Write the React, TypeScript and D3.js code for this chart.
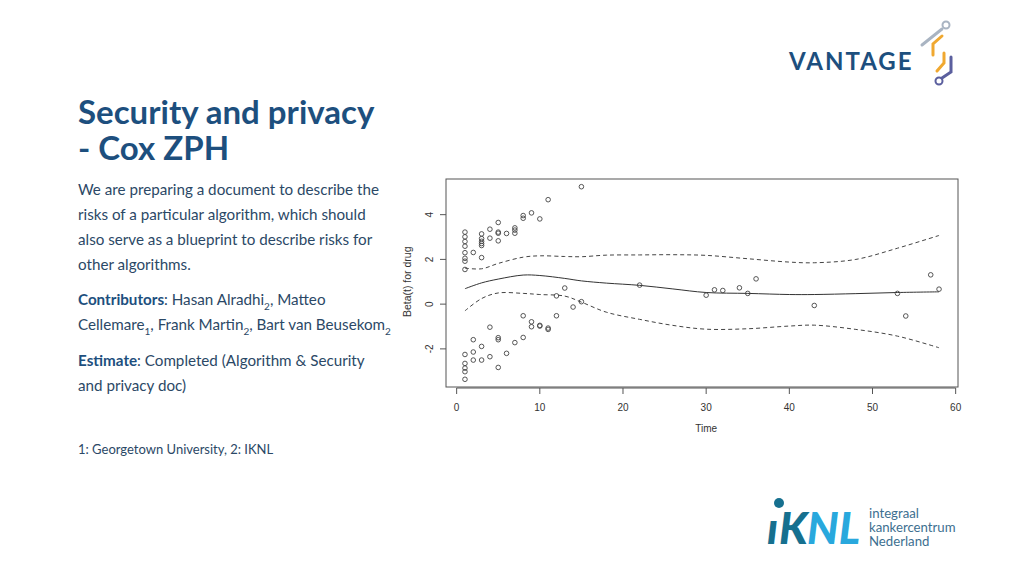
import React, { useEffect, useRef } from "react";
import * as d3 from "d3";

// Schoenfeld residual points (time, beta)
const pointTimes = [
  1, 1, 1, 1, 1, 1, 1, 1, 1, 1, 1, 1, 1,
  2, 2, 2, 2,
  3, 3, 3, 3, 3, 3, 3, 3,
  4, 4, 4, 4,
  5, 5, 5, 5, 5, 5, 5,
  6, 6,
  7, 7, 7, 7,
  8, 8, 8, 8,
  9, 9, 9,
  10, 10, 10,
  11, 11, 11,
  12, 12, 13, 14, 15, 15,
  22, 30, 31, 32, 34, 35, 36, 43, 53, 54, 57, 58,
];
const pointBetas = [
  3.22, 3.01, 2.8, 2.59, 2.3, 2.05, 1.92, 1.55, -2.25, -2.65, -2.86, -3.02, -3.36,
  2.31, -1.59, -2.14, -2.5,
  3.14, 2.93, 2.81, 2.71, 2.62, 2.08, -1.89, -2.5,
  3.35, 2.95, -1.03, -2.35,
  3.65, 3.22, 3.17, 2.83, -1.5, -1.59, -2.83,
  3.16, -2.2,
  3.41, 3.31, 3.17, -1.72,
  3.96, 3.84, -0.52, -1.49,
  4.08, -0.79, -1.01,
  3.81, -0.95, -0.98,
  4.67, -1.07, -1.13,
  0.37, -0.52, 0.72, -0.13, 5.25, 0.11,
  0.85, 0.4, 0.64, 0.61, 0.73, 0.48, 1.13, -0.06, 0.48, -0.53, 1.31, 0.67,
];

// smoothed beta(t) and confidence band
const fitTimes = [1, 3, 5, 8, 10, 13, 15, 18, 22, 26, 30, 35, 40, 43, 48, 53, 58];
const fitBeta = [0.69, 0.95, 1.12, 1.3, 1.28, 1.15, 1.04, 0.94, 0.84, 0.68, 0.52, 0.48, 0.43, 0.43, 0.47, 0.52, 0.55];
const upperBand = [1.61, 1.58, 1.82, 2.1, 2.16, 2.13, 2.12, 2.19, 2.2, 2.21, 2.18, 2.03, 1.88, 1.85, 2.0, 2.5, 3.07];
const lowerBand = [-0.3, 0.25, 0.5, 0.48, 0.43, 0.36, 0.09, -0.36, -0.68, -0.95, -1.12, -1.1, -0.98, -0.94, -1.13, -1.43, -1.95];

const xTicks = [0, 10, 20, 30, 40, 50, 60];
const yTicks = [-2, 0, 2, 4];

const blue = "#1d4f7e";
const textCol = "#2b4866";

export default function App() {
  const ref = useRef<SVGGElement>(null);

  useEffect(() => {
    const g = d3.select(ref.current);
    g.selectAll("*").remove();

    // R style 4% padding around data range
    const [x0, x1] = d3.extent(pointTimes) as [number, number];
    const [y0, y1] = d3.extent(pointBetas) as [number, number];
    const px = (x1 - x0) * 0.04;
    const py = (y1 - y0) * 0.04;
    const x = d3.scaleLinear().domain([x0 - px, x1 + px]).range([446, 958]);
    const y = d3.scaleLinear().domain([y0 - py, y1 + py]).range([387, 179]);

    const axisCol = "#555";
    const font = "Liberation Sans, Arial";

    g.append("rect")
      .attr("x", 446).attr("y", 179).attr("width", 512).attr("height", 208)
      .attr("fill", "none").attr("stroke", axisCol).attr("stroke-width", 1);

    // x axis
    g.selectAll("line.xt").data(xTicks).join("line")
      .attr("x1", d => x(d)).attr("x2", d => x(d))
      .attr("y1", 388).attr("y2", 394)
      .attr("stroke", axisCol);
    g.append("line").attr("x1", x(0)).attr("x2", x(60)).attr("y1", 388).attr("y2", 388).attr("stroke", axisCol);
    g.selectAll("text.xl").data(xTicks).join("text")
      .attr("x", d => x(d)).attr("y", 411)
      .attr("text-anchor", "middle")
      .attr("font-family", font)
      .attr("font-size", 10).attr("fill", "#333")
      .text(d => d);
    g.append("text").attr("x", x(30)).attr("y", 432).attr("text-anchor", "middle")
      .attr("font-family", font).attr("font-size", 10).attr("fill", "#333")
      .text("Time");

    // y axis
    g.selectAll("line.yt").data(yTicks).join("line")
      .attr("x1", 440).attr("x2", 446)
      .attr("y1", d => y(d)).attr("y2", d => y(d))
      .attr("stroke", axisCol);
    g.selectAll("text.yl").data(yTicks).join("text")
      .attr("transform", d => `translate(433,${y(d)}) rotate(-90)`)
      .attr("text-anchor", "middle")
      .attr("font-family", font)
      .attr("font-size", 10).attr("fill", "#333")
      .text(d => d);
    g.append("text").attr("transform", `translate(411,${y(1)}) rotate(-90)`)
      .attr("text-anchor", "middle")
      .attr("font-family", font).attr("font-size", 10.5).attr("fill", "#333")
      .text("Beta(t) for drug");

    // fitted lines
    const mk = (vals: number[]) =>
      d3.line<number>().x((_, i) => x(fitTimes[i])).y(d => y(d)).curve(d3.curveCatmullRom)(vals);
    g.append("path").attr("d", mk(fitBeta)).attr("fill", "none").attr("stroke", "#333").attr("stroke-width", 1);
    [upperBand, lowerBand].forEach(b =>
      g.append("path").attr("d", mk(b)).attr("fill", "none")
        .attr("stroke", "#444").attr("stroke-width", 1).attr("stroke-dasharray", "4,3")
    );

    // points
    g.selectAll("circle").data(pointTimes).join("circle")
      .attr("cx", d => x(d)).attr("cy", (_, i) => y(pointBetas[i]))
      .attr("r", 2.3).attr("fill", "none").attr("stroke", "#444").attr("stroke-width", 0.9);
  }, []);

  return (
    <svg width={1024} height={576} style={{ position: "absolute", left: 0, top: 0, background: "#fff" }}>
      <rect width={1024} height={576} fill="#fff" />

      {/* title */}
      <g fontFamily="Lato" fontWeight={700} fill={blue} fontSize={33}>
        <text x={78} y={124}>Security and privacy</text>
        <text x={78} y={160}>- Cox ZPH</text>
      </g>

      <g fontFamily="Lato" fontSize={15.2} fill={textCol}>
        <text x={78} y={195}>We are preparing a document to describe the</text>
        <text x={78} y={220}>risks of a particular algorithm, which should</text>
        <text x={78} y={245}>also serve as a blueprint to describe risks for</text>
        <text x={78} y={270}>other algorithms.</text>
        <text x={78} y={305}>
          <tspan fontWeight={700} fill={blue}>Contributors</tspan>: Hasan Alradhi
          <tspan fontSize={10} dy={5}>2</tspan>
          <tspan dy={-5}>, Matteo</tspan>
        </text>
        <text x={78} y={330}>
          Cellemare<tspan fontSize={10} dy={5}>1</tspan>
          <tspan dy={-5}>, Frank Martin</tspan>
          <tspan fontSize={10} dy={5}>2</tspan>
          <tspan dy={-5}>, Bart van Beusekom</tspan>
          <tspan fontSize={10} dy={5}>2</tspan>
        </text>
        <text x={78} y={366}>
          <tspan fontWeight={700} fill={blue}>Estimate</tspan>: Completed (Algorithm &amp; Security
        </text>
        <text x={78} y={391}>and privacy doc)</text>
        <text x={78} y={454} fontSize={13}>1: Georgetown University, 2: IKNL</text>
      </g>

      {/* VANTAGE logo */}
      <text x={789} y={70} fontFamily="Lato" fontWeight={700} fontSize={24} letterSpacing={2} fill={blue}>VANTAGE</text>
      <g fill="none" strokeWidth={3} strokeLinecap="round">
        <circle cx={946} cy={25} r={3.5} stroke="#a9b4c2" strokeWidth={2} />
        <polyline points="942,29 922,45" stroke="#a9b4c2" />
        <polyline points="942,36 933,44 933,55" stroke="#f0a830" />
        <polyline points="944,53 944,63 937,71" stroke="#f0a830" />
        <polyline points="951,57 951,72 942,78" stroke="#5b5f9e" />
        <circle cx={939} cy={81} r={3.5} stroke="#5b5f9e" strokeWidth={2} />
      </g>

      {/* IKNL logo */}
      <g fontFamily="Lato" fontWeight={900} fontStyle="italic" fontSize={44}>
        <text x={767} y={544} fill="#16708f">ı</text>
        <circle cx={779} cy={503} r={5} fill="#16708f" />
        <text x={779} y={544} fill="#16708f">K</text>
        <text x={807} y={544} fill="#29a8dd">NL</text>
      </g>
      <g fontFamily="Lato" fontSize={13.2} fill="#3d6f90">
        <text x={869} y={518}>integraal</text>
        <text x={869} y={532}>kankercentrum</text>
        <text x={869} y={546}>Nederland</text>
      </g>

      <g ref={ref} />
    </svg>
  );
}
